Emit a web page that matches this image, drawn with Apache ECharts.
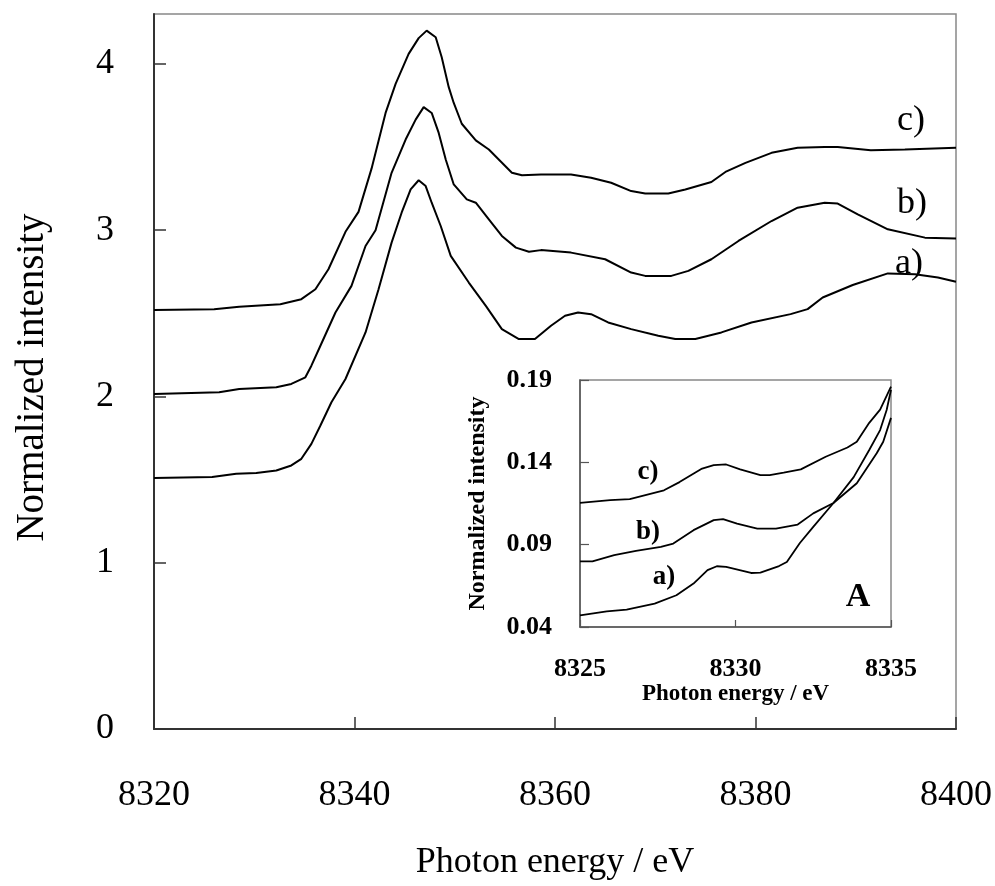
<!DOCTYPE html>
<html>
<head>
<meta charset="utf-8">
<script src="https://cdn.jsdelivr.net/npm/echarts@6/dist/echarts.min.js"></script>
<style>html,body{margin:0;padding:0;background:#fff}#c{width:995px;height:886px}</style>
</head>
<body>
<div id="c"></div>
<script>
// ---- Main plot data (photon energy / eV, normalized intensity) ----
const energyA = [8320, 8325.8, 8328.2, 8330.2, 8332.2, 8333.7, 8334.7, 8335.7, 8336.6, 8337.7, 8339.1, 8341.1, 8342.4, 8343.7, 8344.7, 8345.6, 8346.4, 8347.1, 8347.7, 8348.6, 8349.6, 8351.4, 8353.1, 8354.7, 8356.4, 8358.0, 8359.6, 8361.0, 8362.3, 8363.6, 8365.3, 8367.6, 8370.3, 8372.0, 8374.0, 8376.6, 8379.6, 8383.5, 8385.2, 8386.7, 8389.7, 8393.2, 8395.9, 8398.2, 8400];
const intensityA = [1.51, 1.515, 1.535, 1.54, 1.555, 1.585, 1.625, 1.715, 1.825, 1.965, 2.105, 2.385, 2.645, 2.925, 3.105, 3.245, 3.30, 3.265, 3.165, 3.025, 2.845, 2.685, 2.545, 2.405, 2.345, 2.345, 2.425, 2.485, 2.505, 2.495, 2.445, 2.405, 2.365, 2.345, 2.345, 2.385, 2.445, 2.495, 2.525, 2.595, 2.67, 2.74, 2.735, 2.715, 2.69];

const energyB = [8320, 8326.5, 8328.5, 8332.2, 8333.7, 8335.1, 8335.7, 8336.6, 8338.1, 8339.7, 8341.1, 8342.1, 8343.7, 8345.1, 8346.1, 8346.9, 8347.7, 8348.4, 8349.1, 8349.9, 8351.2, 8352.1, 8353.4, 8354.7, 8356.1, 8357.4, 8358.6, 8361.6, 8365.0, 8367.6, 8369.0, 8371.6, 8373.3, 8375.6, 8378.3, 8381.6, 8384.2, 8386.9, 8388.2, 8390.2, 8393.2, 8396.9, 8400];
const intensityB = [2.015, 2.025, 2.045, 2.055, 2.075, 2.115, 2.185, 2.305, 2.505, 2.665, 2.905, 3.0, 3.345, 3.545, 3.665, 3.74, 3.705, 3.585, 3.425, 3.275, 3.185, 3.165, 3.065, 2.965, 2.895, 2.87, 2.88, 2.865, 2.825, 2.745, 2.725, 2.725, 2.755, 2.825, 2.935, 3.055, 3.135, 3.165, 3.16, 3.095, 3.005, 2.955, 2.95];

const energyC = [8320, 8326, 8328.5, 8332.6, 8334.7, 8336.1, 8337.4, 8339.1, 8340.4, 8341.7, 8343.1, 8344.1, 8345.4, 8346.4, 8347.2, 8348.1, 8348.7, 8349.4, 8349.9, 8350.7, 8352.1, 8353.4, 8355.7, 8356.7, 8358.6, 8361.6, 8363.6, 8365.6, 8367.6, 8369.0, 8371.3, 8373.0, 8375.6, 8377.0, 8379.0, 8381.6, 8384.2, 8386.9, 8388.2, 8391.5, 8394.9, 8400];
const intensityC = [2.52, 2.525, 2.54, 2.555, 2.585, 2.645, 2.765, 2.99, 3.11, 3.37, 3.705, 3.88, 4.06, 4.155, 4.20, 4.16, 4.04, 3.86, 3.765, 3.64, 3.54, 3.485, 3.345, 3.33, 3.335, 3.335, 3.315, 3.285, 3.235, 3.22, 3.22, 3.245, 3.29, 3.35, 3.405, 3.465, 3.495, 3.50, 3.50, 3.48, 3.485, 3.495];

// ---- Inset (pre-edge region) data ----
const insetEnergyA = [8325, 8325.86, 8326.5, 8327.4, 8328.1, 8328.65, 8329.1, 8329.4, 8329.7, 8330.5, 8330.8, 8331.4, 8331.65, 8332.07, 8332.5, 8333.15, 8333.8, 8334.3, 8334.65, 8334.86, 8335];
const insetIntensityA = [0.0471, 0.0495, 0.0505, 0.0542, 0.0593, 0.0664, 0.0745, 0.0769, 0.0765, 0.0728, 0.073, 0.077, 0.0795, 0.091, 0.1008, 0.1153, 0.131, 0.1475, 0.1596, 0.1718, 0.184];

const insetEnergyB = [8325, 8325.4, 8326.1, 8326.8, 8327.6, 8328.0, 8328.65, 8329.3, 8329.6, 8330.05, 8330.7, 8331.3, 8332.0, 8332.5, 8333.15, 8333.9, 8334.54, 8334.75, 8335];
const insetIntensityB = [0.0799, 0.0799, 0.0836, 0.0862, 0.0887, 0.0907, 0.0988, 0.1049, 0.1055, 0.1028, 0.0998, 0.0998, 0.1022, 0.109, 0.1153, 0.1273, 0.1455, 0.1525, 0.167];

const insetEnergyC = [8325, 8325.97, 8326.6, 8327.7, 8328.2, 8328.9, 8329.3, 8329.7, 8330.15, 8330.8, 8331.1, 8331.55, 8332.1, 8332.9, 8333.6, 8333.9, 8334.3, 8334.65, 8335];
const insetIntensityC = [0.1154, 0.117, 0.1176, 0.123, 0.128, 0.136, 0.1383, 0.1387, 0.1357, 0.1322, 0.1322, 0.1337, 0.1357, 0.1434, 0.149, 0.1525, 0.164, 0.172, 0.186];

const insetYTicks = [0.04, 0.09, 0.14, 0.19];
const seriesLabels = ['a)', 'b)', 'c)'];

const FONT = "'Liberation Serif', 'Times New Roman', serif";
const pair = (xs, ys) => xs.map((x, i) => [x, ys[i]]);

const chart = echarts.init(document.getElementById('c'), null, {renderer: 'canvas'});

const mainLine = {color: '#000', width: 2};
const insetLine = {color: '#000', width: 1.8};

function lineSeries(name, xs, ys, idx, style) {
  return {
    name: name, type: 'line', xAxisIndex: idx, yAxisIndex: idx,
    data: pair(xs, ys), showSymbol: false, symbol: 'none',
    lineStyle: style, animation: false, z: 5 + idx
  };
}

const option = {
  backgroundColor: '#fff',
  animation: false,
  grid: [
    {left: 154, right: 38, top: 14, bottom: 155, show: true, borderColor: '#888', borderWidth: 1.5, backgroundColor: 'transparent', containLabel: false},
    {left: 580, top: 380, width: 311, height: 247, show: true, borderColor: '#888', borderWidth: 1.5, backgroundColor: '#fff', containLabel: false, z: 3}
  ],
  xAxis: [
    {
      type: 'value', gridIndex: 0, min: 8320, max: 8400, interval: 20,
      axisLine: {show: true, lineStyle: {color: '#333', width: 2}},
      axisTick: {show: true, inside: true, length: 12, lineStyle: {color: '#333', width: 1.5}},
      axisLabel: {fontFamily: FONT, fontSize: 36, color: '#000', margin: 49, formatter: v => String(v)},
      splitLine: {show: false},
      name: 'Photon energy / eV', nameLocation: 'middle', nameGap: 116,
      nameTextStyle: {fontFamily: FONT, fontSize: 36, color: '#000'}
    },
    {
      type: 'value', gridIndex: 1, min: 8325, max: 8335, interval: 5,
      axisLine: {show: true, lineStyle: {color: '#555', width: 1.5}},
      axisTick: {show: true, inside: true, length: 7, lineStyle: {color: '#555', width: 1.2}},
      axisLabel: {fontFamily: FONT, fontSize: 26, fontWeight: 'bold', color: '#000', margin: 29, formatter: v => String(v)},
      splitLine: {show: false},
      name: 'Photon energy / eV', nameLocation: 'middle', nameGap: 55,
      nameTextStyle: {fontFamily: FONT, fontSize: 23, fontWeight: 'bold', color: '#000'},
      z: 4
    }
  ],
  yAxis: [
    {
      type: 'value', gridIndex: 0, min: 0, max: 4.3, interval: 1,
      axisLine: {show: true, lineStyle: {color: '#333', width: 2}},
      axisTick: {show: true, inside: true, length: 12, lineStyle: {color: '#333', width: 1.5}},
      axisLabel: {fontFamily: FONT, fontSize: 36, color: '#000', margin: 40, showMaxLabel: false, padding: [10, 0, 0, 0]},
      splitLine: {show: false},
      name: 'Normalized intensity', nameLocation: 'middle', nameGap: 102, nameRotate: 90,
      nameTextStyle: {fontFamily: FONT, fontSize: 39, color: '#000', padding: [0, 12, 0, 0]}
    },
    {
      type: 'value', gridIndex: 1, min: 0.04, max: 0.19,
      axisLine: {show: true, lineStyle: {color: '#555', width: 1.5}},
      axisTick: {show: true, inside: true, length: 9, customValues: insetYTicks, lineStyle: {color: '#555', width: 1.2}},
      axisLabel: {fontFamily: FONT, fontSize: 26, fontWeight: 'bold', color: '#000', margin: 28,
                  customValues: insetYTicks, formatter: v => Number(v).toFixed(2)},
      splitLine: {show: false},
      name: 'Normalized intensity', nameLocation: 'middle', nameGap: 90, nameRotate: 90,
      nameTextStyle: {fontFamily: FONT, fontSize: 24, fontWeight: 'bold', color: '#000'},
      z: 4
    }
  ],
  series: [
    lineSeries('a', energyA, intensityA, 0, mainLine),
    lineSeries('b', energyB, intensityB, 0, mainLine),
    lineSeries('c', energyC, intensityC, 0, mainLine),
    lineSeries('inset a', insetEnergyA, insetIntensityA, 1, insetLine),
    lineSeries('inset b', insetEnergyB, insetIntensityB, 1, insetLine),
    lineSeries('inset c', insetEnergyC, insetIntensityC, 1, insetLine)
  ],
  graphic: [
    {type: 'text', x: 911, y: 121, z: 100, style: {text: seriesLabels[2], font: '36px ' + FONT, fill: '#000', textAlign: 'center', textVerticalAlign: 'middle'}},
    {type: 'text', x: 912, y: 204, z: 100, style: {text: seriesLabels[1], font: '36px ' + FONT, fill: '#000', textAlign: 'center', textVerticalAlign: 'middle'}},
    {type: 'text', x: 909, y: 264, z: 100, style: {text: seriesLabels[0], font: '36px ' + FONT, fill: '#000', textAlign: 'center', textVerticalAlign: 'middle'}},
    {type: 'text', x: 648, y: 472, z: 100, style: {text: seriesLabels[2], font: 'bold 27px ' + FONT, fill: '#000', textAlign: 'center', textVerticalAlign: 'middle'}},
    {type: 'text', x: 648, y: 532, z: 100, style: {text: seriesLabels[1], font: 'bold 27px ' + FONT, fill: '#000', textAlign: 'center', textVerticalAlign: 'middle'}},
    {type: 'text', x: 664, y: 577, z: 100, style: {text: seriesLabels[0], font: 'bold 27px ' + FONT, fill: '#000', textAlign: 'center', textVerticalAlign: 'middle'}},
    {type: 'text', x: 858, y: 597, z: 100, style: {text: 'A', font: 'bold 34px ' + FONT, fill: '#000', textAlign: 'center', textVerticalAlign: 'middle'}}
  ]
};

chart.setOption(option);
</script>
</body>
</html>
